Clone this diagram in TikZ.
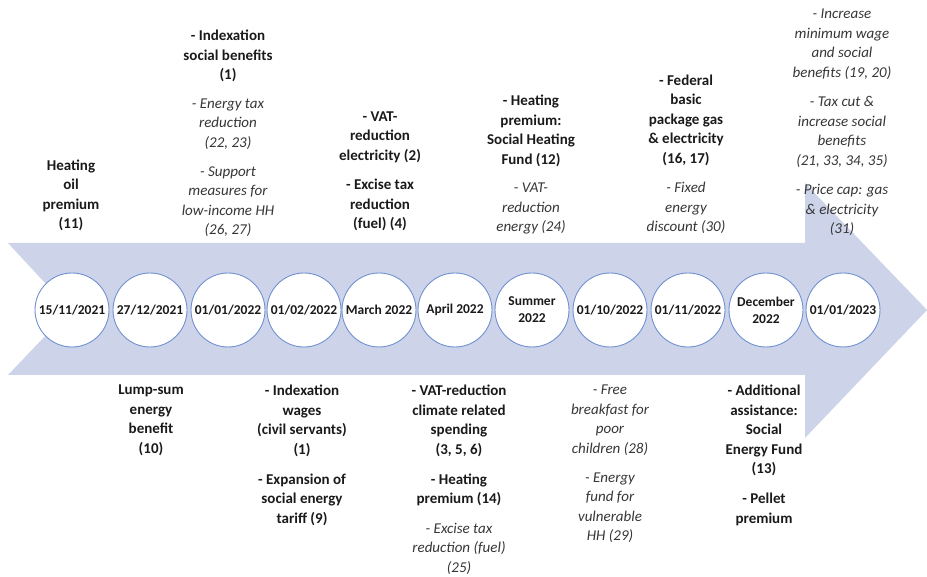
\documentclass[tikz,border=0pt]{standalone}
\usepackage{fontspec}
\setmainfont{Carlito}
\usetikzlibrary{positioning}

\definecolor{arrowblue}{HTML}{CDD4EA}
\definecolor{ringblue}{HTML}{7090CF}
\definecolor{boldtxt}{HTML}{1A1A1A}
\definecolor{softtxt}{HTML}{363636}

\tikzset{
	datecircle/.style={circle, draw=ringblue, line width=0.9pt, fill=white,
		minimum size=74pt, inner sep=0pt, align=center, text=boldtxt,
		font=\fontsize{13.5}{17}\selectfont\bfseries},
	boldnote/.style={inner sep=0pt, align=center, text=boldtxt,
		font=\fontsize{15}{19.5}\selectfont\bfseries,
		execute at begin node=\strut, execute at end node=\strut},
	itnote/.style={boldnote, text=softtxt,
		font=\fontsize{15}{19.5}\selectfont\itshape}
}

\begin{document}
\begin{tikzpicture}[x=1pt, y=1pt, node distance=13pt]

	\useasboundingbox (0,0) rectangle (927,577);

	% the timeline arrow
	\fill[arrowblue] (8,334) -- (805,334) -- (805,394) -- (927,267)
		-- (805,139) -- (805,202) -- (8,202) -- (70,267) -- cycle;

	% dates
	\node[datecircle] (d1)  at (72,267)  {15/11/2021};
	\node[datecircle] (d2)  at (150,267) {27/12/2021};
	\node[datecircle] (d3)  at (228,267) {01/01/2022};
	\node[datecircle] (d4)  at (304,267) {01/02/2022};
	\node[datecircle] (d5)  at (379,267) {March 2022};
	\node[datecircle] (d6)  at (455,267) {April 2022};
	\node[datecircle] (d7)  at (532,267) {Summer\\2022};
	\node[datecircle] (d8)  at (610,267) {01/10/2022};
	\node[datecircle] (d9)  at (688,267) {01/11/2022};
	\node[datecircle] (d10) at (766,267) {December\\2022};
	\node[datecircle] (d11) at (843,267) {01/01/2023};

	% measures above the arrow
	\node[boldnote, anchor=south] (oilprem) at (71,342) {Heating\\oil\\premium\\(11)};

	\node[itnote, anchor=south] (lowinc) at (228,336) {- Support\\measures for\\low-income HH\\(26, 27)};
	\node[itnote, above=of lowinc] (entax) {- Energy tax\\reduction\\(22, 23)};
	\node[boldnote, above=of entax] (idxsoc) {- Indexation\\social benefits\\(1)};

	\node[boldnote, anchor=south] (excise) at (380,342) {- Excise tax\\reduction\\(fuel) (4)};
	\node[boldnote, above=of excise] (vatelec) {- VAT-\\reduction\\electricity (2)};

	\node[itnote, anchor=south] (vatenergy) at (531,339) {- VAT-\\reduction\\energy (24)};
	\node[boldnote, above=of vatenergy] (heatfund) {- Heating\\premium:\\Social Heating\\Fund (12)};

	\node[itnote, anchor=south] (fixdisc) at (686,339) {- Fixed\\energy\\discount (30)};
	\node[boldnote, above=of fixdisc] (fedpack) {- Federal\\basic\\package gas\\\& electricity\\(16, 17)};

	\node[itnote, anchor=south] (pricecap) at (842,337) {- Price cap: gas\\\& electricity\\(31)};
	\node[itnote, above=of pricecap] (taxcut) {- Tax cut \&\\increase social\\benefits\\(21, 33, 34, 35)};
	\node[itnote, above=of taxcut] (minwage) {- Increase\\minimum wage\\and social\\benefits (19, 20)};

	% measures below the arrow
	\node[boldnote, anchor=north] (lumpsum) at (151,192) {Lump-sum\\energy\\benefit\\(10)};

	\node[boldnote, anchor=north] (idxwage) at (302,192) {- Indexation\\wages\\(civil servants)\\(1)};
	\node[boldnote, below=of idxwage] (tariff) {- Expansion of\\social energy\\tariff (9)};

	\node[boldnote, anchor=north] (vatclim) at (459,192) {- VAT-reduction\\climate related\\spending\\(3, 5, 6)};
	\node[boldnote, below=of vatclim] (heatprem) {- Heating\\premium (14)};
	\node[itnote, below=of heatprem] (excfuel) {- Excise tax\\reduction (fuel)\\(25)};

	\node[itnote, anchor=north] (breakfast) at (610,192) {- Free\\breakfast for\\poor\\children (28)};
	\node[itnote, below=of breakfast] (vulnfund) {- Energy\\fund for\\vulnerable\\HH (29)};

	\node[boldnote, anchor=north] (socfund) at (764,192) {- Additional\\assistance:\\Social\\Energy Fund\\(13)};
	\node[boldnote, below=of socfund] (pellet) {- Pellet\\premium};

\end{tikzpicture}
\end{document}
